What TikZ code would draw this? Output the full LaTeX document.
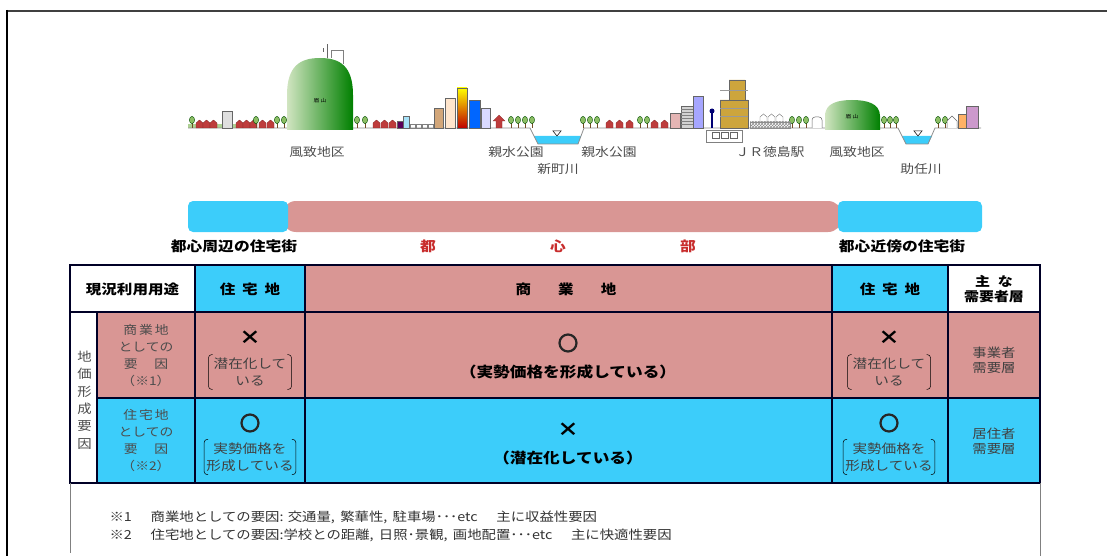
\documentclass[tikz,border=0pt]{standalone}
\usepackage{fontspec}
\setmainfont{Noto Sans CJK JP}[FakeStretch=1.15]
\usetikzlibrary{patterns}
\definecolor{pk}{RGB}{217,150,148}
\definecolor{bl}{RGB}{60,205,250}
\definecolor{lf}{RGB}{140,190,100}
\definecolor{hs}{RGB}{190,60,60}
\definecolor{zred}{RGB}{200,45,45}
\def\hse{-- ++(0,-5) -- ++(3.5,-3) -- ++(3.5,3) -- ++(0,5) -- cycle}
\newcommand\tree[2]{\draw[brown!60!black,line width=.6] (#1,#2) -- ++(0,-5);
  \filldraw[fill=lf,draw=green!30!black,line width=.4] (#1,#2-8) ellipse (2.6 and 3.6);}
\newcommand\brk[1]{\draw[line width=.5,rounded corners=3] ([xshift=4]#1.north west) -- (#1.north west) -- (#1.south west) -- ([xshift=4]#1.south west);
  \draw[line width=.5,rounded corners=3] ([xshift=-4]#1.north east) -- (#1.north east) -- (#1.south east) -- ([xshift=-4]#1.south east);}

\begin{document}
\begin{tikzpicture}[x=1pt,y=-1pt,
    lab/.style={font=\fontsize{12}{14}\selectfont,text=black!70},
    zn/.style={font=\bfseries\fontsize{13.7}{16}\selectfont},
    hd/.style={font=\bfseries\fontsize{13.5}{16}\selectfont,align=center},
    rl/.style={font=\fontsize{12}{17}\selectfont,text=black!70,align=center},
    sm/.style={font=\fontsize{12.7}{17}\selectfont,text=black!75,align=center,inner xsep=5,inner ysep=3},
    bg/.style={font=\bfseries\fontsize{14.5}{16}\selectfont},
    batsu/.style={font=\bfseries\fontsize{19}{20}\selectfont,inner sep=0},
    maru/.style={circle,draw=black!85,line width=2.2,minimum size=17,inner sep=0},
    grid/.style={line width=1.1,draw=black!85!blue}]
\useasboundingbox (0,0) rectangle (1107,556);
% frame
\draw[line width=2.5,black!75] (6,11) -- (1107,11);
\draw[line width=2.5] (7,10) -- (7,556);

% ---- skyline ----
\fill[lf!70] (188,124) rectangle (257,128);
\fill[bl] (534,136) -- (581,136) -- (578,144) -- (538,144) -- cycle;
\fill[bl] (902,136) -- (932,136) -- (928,144) -- (906,144) -- cycle;
\draw[black!45,line width=.8] (188,128) -- (530,128) -- (538,144) -- (578,144) -- (584,128)
  -- (898,128) -- (906,144) -- (928,144) -- (935,128) -- (981,128);
\foreach \x in {553,914} \draw[line width=.5] (\x,131) -- ++(8,0) -- ++(-4,5) -- cycle;
% domes
\shade[left color=lf!40!white,right color=green!50!black] (287,130) -- (287,95) .. controls (287,66) and (300,58) .. (320,58)
  .. controls (340,58) and (353,66) .. (353,95) -- (353,130) -- cycle;
\shade[left color=lf!40!white,right color=green!50!black] (825,130) -- (825,116) .. controls (825,103) and (838,100) .. (852,100)
  .. controls (866,100) and (880,103) .. (880,116) -- (880,130) -- cycle;
\node[font=\fontsize{5}{5}\selectfont] (bz1) at (320,101) {眉 山};
\node[font=\fontsize{5}{5}\selectfont] (bz2) at (852,117) {眉 山};
\draw[black!60,line width=.6] (327,58) -- (327,44) (323,52) -- (323,48);
\draw[black!50,line width=.5] (331,58) -- (331,50) -- (343,50) -- (343,64);
% houses and trees
\foreach \x in {196,203,210,236,243,250,259,267,373,381,389,606,616,626,651,661}
  \filldraw[fill=hs,draw=hs!70!black,line width=.3] (\x,128) \hse;
\foreach \x in {760,768,776} \draw[black!55,line width=.4,fill=white] (\x,122) \hse;
\foreach \x in {192,256,277,284,357,365,511,518,525,532,583,590,597,640,647,792,799,806,884,890,896,938,945}
  {\tree{\x}{128}}
% buildings
\foreach \a/\b/\t/\c in {222/232/111/gray!25,397/403/121/violet!70!black,403/409/116/cyan!35,434/443/108/brown!70,
    445/455/98/orange!20,469/480/100/blue!60!cyan,481/490/108/blue!15,670/680/113/pk!70,
    681/693/106/gray!35,693/703/96/blue!35,958/966/114/orange!60,966/978/106/violet!40}
  \filldraw[fill=\c,draw=black!60,line width=.4] (\a,128) rectangle (\b,\t);
\shade[top color=yellow,bottom color=red!75!black] (457,128) rectangle (467,88);
\draw[black!60,line width=.4] (457,128) rectangle (467,88);
\foreach \x in {410,416,422,428} \draw[black!50,line width=.4] (\x,128) rectangle ++(5,-4);
\filldraw[fill=hs,draw=hs!70!black,line width=.3] (496,128) -- (496,121) -- (493,121) -- (499,115) -- (505,121) -- (502,121) -- (502,128) -- cycle;
\foreach \y in {109,112,115,118,121,124} \draw[black!50,line width=.4] (681,\y) -- (693,\y);
\filldraw[fill={rgb,255:red,205;green,165;blue,60},draw=black!60,line width=.4] (720,128) rectangle (748,100) (729,100) rectangle (745,80);
\foreach \y in {108,116,90} \draw[black!40,line width=.4] (720,\y) -- (748,\y);
\draw[blue!45!black,line width=1.5] (712,128) -- (712,113);
\fill[blue!45!black] (712,111) circle (2.5);
\draw[black!50,line width=.5] (706,130) rectangle (742,142);
\foreach \x in {712,721,730} \draw[black!60,line width=.4] (\x,132) rectangle ++(7,6);
\filldraw[pattern=crosshatch,pattern color=black!45,draw=black!45,line width=.4] (750,122) rectangle (790,128);
\draw[black!60,line width=.5,fill=white,rounded corners=3] (812,128) -- (812,117) -- (822,117) -- (822,128);
\draw[black!60,line width=.5,fill=white] (947,128) -- (947,121) -- (952,116) -- (957,121) -- (957,128);
% place names
\node[lab] (fc1) at (317,152) {風致地区};
\node[lab] (sk1) at (516,152) {親水公園};
\node[lab] (sk2) at (609,152) {親水公園};
\node[lab] (smc) at (558,169) {新町川};
\node[lab] (jrs) at (770,152) {ＪＲ徳島駅};
\node[lab] (fc2) at (857,152) {風致地区};
\node[lab] (skr) at (921,169) {助任川};

% ---- zones ----
\fill[pk,rounded corners=14] (282,201) rectangle (842,232);
\fill[bl,rounded corners=5] (188,201) rectangle (288,232);
\fill[bl,rounded corners=5] (838,201) rectangle (982,232);
\node[zn] (zl) at (234,246) {都心周辺の住宅街};
\node[zn,text=zred] (t1) at (428,246) {都};
\node[zn,text=zred] (t2) at (558,246) {心};
\node[zn,text=zred] (t3) at (688,246) {部};
\node[zn] (zr) at (902,246) {都心近傍の住宅街};

% ---- table ----
\fill[bl] (195,265) rectangle (305,312) (832,265) rectangle (948,312);
\fill[pk] (305,265) rectangle (832,312);
\fill[pk] (97,312) rectangle (1040,398);
\fill[bl] (97,398) rectangle (1040,483);
\draw[grid] (70,265) rectangle (1040,483) (70,312) -- (1040,312) (97,398) -- (1040,398) (97,312) -- (97,483);
\foreach \x in {195,305,832,948} \draw[grid] (\x,265) -- (\x,483);
\draw[black!50,line width=1] (70,483) -- (70,553) (1040,483) -- (1040,556);

\node[hd] (h0) at (132.5,289) {現況利用用途};
\node[hd] (h1) at (250,289) {住\hspace{.5em}宅\hspace{.5em}地};
\node[hd] (h2) at (566,289) {商\hspace{2em}業\hspace{2em}地};
\node[hd] (h3) at (890,289) {住\hspace{.5em}宅\hspace{.5em}地};
\node[hd,font=\bfseries\fontsize{13}{15}\selectfont] (h4) at (994,289) {主\hspace{.6em}な\\需要者層};

\node[rl,font=\fontsize{12.5}{17.3}\selectfont] (ky) at (84.5,400) {地\\価\\形\\成\\要\\因};
\node[rl] (r1) at (146,356) {商\,業\,地\\としての\\要\hspace{1.4em}因\\（※1）};
\node[rl] (r2) at (146,441) {住\,宅\,地\\としての\\要\hspace{1.4em}因\\（※2）};

% row 1
\node[batsu] (x1) at (250,338) {×};
\node[sm] (s1) at (250,372) {潜在化して\\いる};
\node[maru] (o1) at (568,343) {};
\node[bg] (m1) at (568,372) {（実勢価格を形成している）};
\node[batsu] (x2) at (889,338) {×};
\node[sm] (s2) at (889,372) {潜在化して\\いる};
\node[rl,text=black!75,font=\fontsize{12.5}{15}\selectfont] (d1) at (994,360) {事業者\\需要層};
% row 2
\node[maru] (o2) at (250,423) {};
\node[sm,inner xsep=2] (s3) at (250,457) {実勢価格を\\形成している};
\node[batsu] (x3) at (568,430) {×};
\node[bg] (m2) at (568,458) {（潜在化している）};
\node[maru] (o3) at (889,423) {};
\node[sm,inner xsep=2] (s4) at (889,457) {実勢価格を\\形成している};
\node[rl,text=black!75,font=\fontsize{12.5}{15}\selectfont] (d2) at (994,441) {居住者\\需要層};
\foreach \n in {s1,s2,s3,s4} {\brk{\n}}

% notes
\node[font=\fontsize{12.5}{18}\selectfont,text=black!80,align=left,anchor=west] (nt) at (106,526)
  {※1\hspace{1.5em}商業地としての要因: 交通量,\, 繁華性,\, 駐車場･･･etc\hspace{1.5em}主に収益性要因\\
   ※2\hspace{1.5em}住宅地としての要因:学校との距離,\, 日照･景観,\, 画地配置･･･etc\hspace{1.5em}主に快適性要因};
\end{tikzpicture}
\end{document}
